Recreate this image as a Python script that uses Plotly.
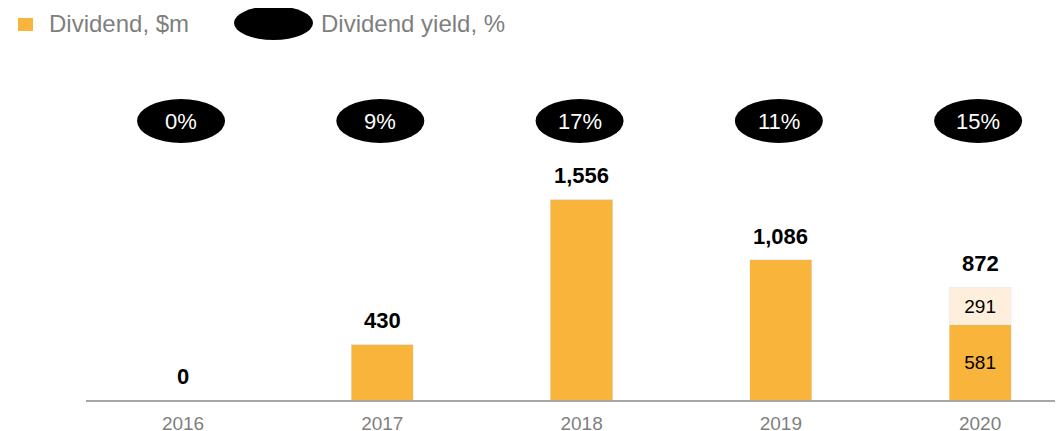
import plotly.graph_objects as go

years = ["2016", "2017", "2018", "2019", "2020"]
dividend_paid = [0, 430, 1556, 1086, 581]
dividend_extra = [0, 0, 0, 0, 291]
dividend_total = [0, 430, 1556, 1086, 872]
yield_pct = ["0%", "9%", "17%", "11%", "15%"]

ORANGE = "#F9B53B"
LIGHT = "#FDEFDB"
FONT = "Liberation Sans, Arial, sans-serif"

# page body has an 8px margin; lay out in screen coordinates and shift
OFF = 8
SW, SH = 1063, 431
W, H = SW - OFF, SH - OFF
PLOT_L, PLOT_R, PLOT_T, PLOT_B = 86, 1063, 60, 400  # screen px
ML = PLOT_L - OFF
MR = SW - PLOT_R
MT = PLOT_T - OFF
MB = SH - PLOT_B
PW, PH = PLOT_R - PLOT_L, PLOT_B - PLOT_T

def px(x):
    return (x - PLOT_L) / PW

def py(y):
    return (PLOT_B - y) / PH

xi = list(range(len(years)))

fig = go.Figure()
fig.add_trace(go.Bar(
    x=xi, y=dividend_paid, marker_color=ORANGE, width=0.312,
    text=[str(v) if e > 0 else "" for v, e in zip(dividend_paid, dividend_extra)],
    textposition="inside", insidetextanchor="middle",
    textfont=dict(color="black", size=19, family=FONT),
    hoverinfo="skip", showlegend=False,
))
fig.add_trace(go.Bar(
    x=xi, y=dividend_extra, marker_color=LIGHT, width=0.312,
    text=[str(v) if v > 0 else "" for v in dividend_extra],
    textposition="inside", insidetextanchor="middle",
    textfont=dict(color="black", size=19, family=FONT),
    hoverinfo="skip", showlegend=False,
))

shapes = []
annotations = []

# total labels
for i, t in enumerate(dividend_total):
    annotations.append(dict(
        x=i, y=t, xref="x", yref="y", text=f"<b>{t:,}</b>", showarrow=False,
        yanchor="bottom", yshift=9, font=dict(size=22, color="black", family=FONT)))

# yield ellipses
px_per_unit = 201 / 1556
ycenter = (PLOT_B - 121) / px_per_unit
for i, lab in enumerate(yield_pct):
    shapes.append(dict(
        type="circle", xref="x", yref="y", xsizemode="pixel", ysizemode="pixel",
        xanchor=i - 0.01, yanchor=ycenter, x0=-44, x1=44, y0=-22, y1=22,
        fillcolor="black", line=dict(width=0)))
    annotations.append(dict(
        x=i - 0.01, y=ycenter, xref="x", yref="y", text=lab, showarrow=False,
        xanchor="center", yanchor="middle",
        font=dict(size=22, color="white", family=FONT)))

# legend
shapes.append(dict(type="rect", xref="paper", yref="paper",
                   x0=px(18), x1=px(33), y0=py(31), y1=py(18),
                   fillcolor=ORANGE, line=dict(width=0)))
annotations.append(dict(x=px(47), y=py(24), xref="paper", yref="paper",
                        text="Dividend, $m", showarrow=False,
                        xanchor="left", yanchor="middle",
                        font=dict(size=24, color="#7F7F7F", family=FONT)))
shapes.append(dict(type="circle", xref="paper", yref="paper",
                   x0=px(234), x1=px(313), y0=py(40), y1=py(6),
                   fillcolor="black", line=dict(width=0)))
annotations.append(dict(x=px(319), y=py(24), xref="paper", yref="paper",
                        text="Dividend yield, %", showarrow=False,
                        xanchor="left", yanchor="middle",
                        font=dict(size=24, color="#7F7F7F", family=FONT)))

ymax = PH / px_per_unit

fig.update_layout(
    width=W, height=H, barmode="stack",
    margin=dict(l=ML, r=MR, t=MT, b=MB, autoexpand=False),
    plot_bgcolor="white", paper_bgcolor="white",
    shapes=shapes, annotations=annotations,
    xaxis=dict(range=[-0.487, 4.416], tickmode="array", tickvals=xi, ticktext=years,
               showgrid=False, zeroline=False, showline=True, linecolor="#A6A6A6",
               linewidth=1.5, ticks="", ticklabelstandoff=5,
               tickfont=dict(size=19, color="#7F7F7F", family=FONT)),
    yaxis=dict(range=[0, ymax], visible=False, showgrid=False, zeroline=False),
)

fig.write_html("out.html")
